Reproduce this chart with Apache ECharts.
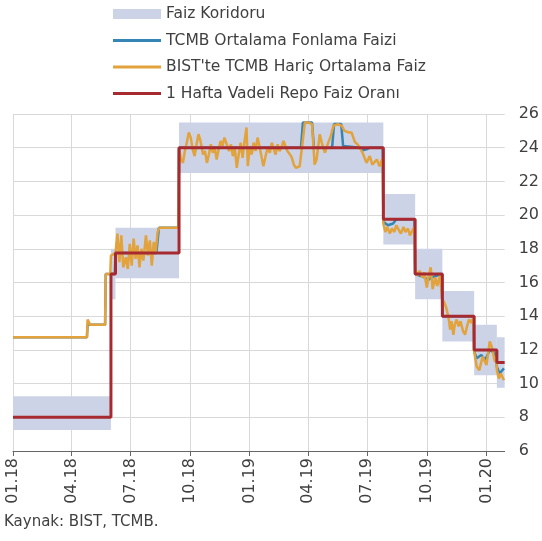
<!DOCTYPE html>
<html>
<head>
<meta charset="utf-8">
<script src="https://cdn.jsdelivr.net/npm/echarts@6/dist/echarts.min.js"></script>
<style>
  html, body { margin: 0; padding: 0; background: #fff; }
  #chart { width: 542px; height: 541px; }
</style>
</head>
<body>
<div id="chart"></div>
<script>
// quarter ticks on the x axis
const quarterTicks = ['2018-01-01', '2018-04-01', '2018-07-01', '2018-10-01', '2019-01-01',
  '2019-04-01', '2019-07-01', '2019-10-01', '2020-01-01'];

// faiz koridoru: [start, end, lower, upper]
const corridor = [
  ['2018-01-01', '2018-06-01', 7.25, 9.25],
  ['2018-06-01', '2018-06-08', 15, 18],
  ['2018-06-08', '2018-09-14', 16.25, 19.25],
  ['2018-09-14', '2019-07-26', 22.5, 25.5],
  ['2019-07-26', '2019-09-13', 18.25, 21.25],
  ['2019-09-13', '2019-10-25', 15, 18],
  ['2019-10-25', '2019-12-13', 12.5, 15.5],
  ['2019-12-13', '2020-01-17', 10.5, 13.5],
  ['2020-01-17', '2020-01-29', 9.75, 12.75]
];

// 1 hafta vadeli repo (policy rate), held until next change
const repoRate = [
  ['2018-01-01', 8], ['2018-06-01', 16.5], ['2018-06-08', 17.75], ['2018-09-14', 24],
  ['2019-07-26', 19.75], ['2019-09-13', 16.5], ['2019-10-25', 14], ['2019-12-13', 12],
  ['2020-01-17', 11.25], ['2020-01-29', 11.25]
];

// TCMB ortalama fonlama faizi
const tcmbFunding = [
  ['2018-01-01', 12.75], ['2018-04-25', 12.75], ['2018-04-26', 13.5], ['2018-05-23', 13.5],
  ['2018-05-24', 16.5], ['2018-06-07', 16.5], ['2018-06-08', 17.75], ['2018-08-10', 17.75],
  ['2018-08-12', 18.5], ['2018-08-14', 19.25], ['2018-09-13', 19.25], ['2018-09-14', 24],
  ['2019-03-21', 24], ['2019-03-24', 25.5], ['2019-04-07', 25.5], ['2019-04-10', 24],
  ['2019-05-08', 24], ['2019-05-11', 25.4], ['2019-05-22', 25.4], ['2019-05-25', 24.1],
  ['2019-06-20', 24], ['2019-06-24', 23.85], ['2019-06-30', 23.9], ['2019-07-05', 24],
  ['2019-07-25', 24], ['2019-07-26', 19.6], ['2019-08-02', 19.4], ['2019-08-10', 19.5],
  ['2019-08-15', 19.75], ['2019-09-12', 19.75], ['2019-09-13', 16.5], ['2019-09-28', 16.3],
  ['2019-10-03', 16.15], ['2019-10-08', 16.3], ['2019-10-24', 16.5], ['2019-10-25', 14],
  ['2019-12-12', 14], ['2019-12-13', 11.9], ['2019-12-17', 11.5], ['2019-12-24', 11.7],
  ['2019-12-30', 11.4], ['2020-01-06', 12], ['2020-01-14', 11.8], ['2020-01-17', 11.0],
  ['2020-01-21', 10.6], ['2020-01-28', 10.9]
];

// BIST'te TCMB hariç ortalama faiz
const bistRate = [
  ['2018-01-01', 12.75], ['2018-04-25', 12.75], ['2018-04-26', 13.8], ['2018-04-30', 13.5],
  ['2018-05-23', 13.5], ['2018-05-24', 16.5], ['2018-05-31', 16.5], ['2018-06-01', 17.6],
  ['2018-06-08', 17.75], ['2018-06-11', 18.9], ['2018-06-14', 17.2], ['2018-06-17', 18.8],
  ['2018-06-20', 16.9], ['2018-06-24', 17.5], ['2018-06-27', 16.8], ['2018-06-30', 18.3],
  ['2018-07-03', 17.0], ['2018-07-06', 18.6], ['2018-07-09', 17.4], ['2018-07-12', 18.2],
  ['2018-07-15', 16.9], ['2018-07-18', 18.0], ['2018-07-21', 17.3], ['2018-07-25', 18.8],
  ['2018-07-28', 17.6], ['2018-07-31', 18.5], ['2018-08-03', 17.0], ['2018-08-06', 18.4],
  ['2018-08-09', 17.8], ['2018-08-12', 19.0], ['2018-08-15', 19.25], ['2018-09-13', 19.25],
  ['2018-09-14', 24.0], ['2018-09-17', 23.3], ['2018-09-20', 23.1], ['2018-09-23', 23.8],
  ['2018-09-26', 24.3], ['2018-09-29', 24.9], ['2018-10-02', 24.6], ['2018-10-05', 23.9],
  ['2018-10-08', 23.5], ['2018-10-11', 24.2], ['2018-10-14', 24.8], ['2018-10-17', 24.4],
  ['2018-10-21', 23.6], ['2018-10-24', 23.8], ['2018-10-27', 23.1], ['2018-10-30', 23.6],
  ['2018-11-02', 24.2], ['2018-11-05', 23.7], ['2018-11-08', 24.0], ['2018-11-11', 23.3],
  ['2018-11-14', 23.9], ['2018-11-17', 24.4], ['2018-11-20', 24.1], ['2018-11-23', 24.6],
  ['2018-11-26', 24.5], ['2018-11-30', 23.8], ['2018-12-03', 24.2], ['2018-12-06', 23.5],
  ['2018-12-09', 24.0], ['2018-12-12', 22.8], ['2018-12-15', 23.6], ['2018-12-18', 24.3],
  ['2018-12-21', 23.4], ['2018-12-24', 24.4], ['2018-12-27', 25.2], ['2018-12-29', 22.9],
  ['2019-01-01', 24.0], ['2019-01-04', 23.6], ['2019-01-07', 24.3], ['2019-01-10', 23.8],
  ['2019-01-13', 24.6], ['2019-01-16', 24.1], ['2019-01-19', 23.5], ['2019-01-22', 22.9],
  ['2019-01-26', 23.6], ['2019-01-29', 24.0], ['2019-02-01', 23.7], ['2019-02-04', 24.3],
  ['2019-02-07', 23.9], ['2019-02-10', 23.6], ['2019-02-13', 24.2], ['2019-02-16', 23.8],
  ['2019-02-19', 24.0], ['2019-02-22', 24.4], ['2019-02-25', 24.3], ['2019-02-28', 23.8],
  ['2019-03-04', 23.6], ['2019-03-07', 23.4], ['2019-03-10', 23.0], ['2019-03-13', 22.8],
  ['2019-03-16', 22.9], ['2019-03-19', 22.9], ['2019-03-24', 24.5], ['2019-03-27', 25.5],
  ['2019-04-01', 25.5], ['2019-04-07', 25.4], ['2019-04-11', 23.0], ['2019-04-14', 23.3],
  ['2019-04-19', 24.8], ['2019-04-22', 24.3], ['2019-04-27', 23.7], ['2019-05-01', 24.2],
  ['2019-05-06', 24.7], ['2019-05-10', 25.3], ['2019-05-17', 25.4], ['2019-05-23', 25.3],
  ['2019-05-27', 25.0], ['2019-06-03', 24.9], ['2019-06-07', 24.9], ['2019-06-12', 24.35],
  ['2019-06-16', 24.2], ['2019-06-19', 24.05], ['2019-06-24', 23.7], ['2019-06-30', 23.1],
  ['2019-07-05', 23.5], ['2019-07-09', 23.0], ['2019-07-16', 23.3], ['2019-07-20', 22.9],
  ['2019-07-25', 23.4], ['2019-07-26', 19.5], ['2019-07-29', 19.0], ['2019-08-01', 19.3],
  ['2019-08-05', 18.9], ['2019-08-08', 19.2], ['2019-08-12', 19.0], ['2019-08-15', 19.4],
  ['2019-08-19', 19.1], ['2019-08-22', 18.9], ['2019-08-26', 19.3], ['2019-08-29', 19.0],
  ['2019-09-02', 19.2], ['2019-09-05', 18.8], ['2019-09-09', 19.1], ['2019-09-12', 19.3],
  ['2019-09-13', 16.8], ['2019-09-17', 16.4], ['2019-09-20', 16.7], ['2019-09-24', 16.3],
  ['2019-09-27', 16.6], ['2019-10-01', 15.7], ['2019-10-03', 16.2], ['2019-10-07', 16.9],
  ['2019-10-10', 15.6], ['2019-10-14', 16.3], ['2019-10-17', 15.8], ['2019-10-21', 16.4],
  ['2019-10-24', 16.3], ['2019-10-25', 15.0], ['2019-10-28', 14.8], ['2019-10-31', 14.5],
  ['2019-11-04', 13.8], ['2019-11-06', 13.2], ['2019-11-08', 13.7], ['2019-11-11', 12.9],
  ['2019-11-13', 13.5], ['2019-11-16', 13.8], ['2019-11-19', 13.4], ['2019-11-22', 13.7],
  ['2019-11-26', 13.1], ['2019-11-29', 12.9], ['2019-12-02', 13.4], ['2019-12-05', 13.8],
  ['2019-12-09', 13.6], ['2019-12-12', 14.0], ['2019-12-13', 11.9], ['2019-12-17', 11.0],
  ['2019-12-21', 10.8], ['2019-12-26', 11.6], ['2020-01-01', 11.1], ['2020-01-06', 12.5],
  ['2020-01-09', 12.2], ['2020-01-14', 11.3], ['2020-01-16', 11.6], ['2020-01-17', 10.8],
  ['2020-01-20', 10.3], ['2020-01-23', 10.6], ['2020-01-28', 10.2]
];

const colors = ['#ccd3e7', '#3585b5', '#e2a23c', '#a82a31'];
const font = 'DejaVu Sans';
const lineIcon = 'path://M0,0H48V3H0Z';

// dates -> UTC timestamps for a plain value axis
const ts = s => Date.parse(s);
const toXY = arr => arr.map(p => [ts(p[0]), p[1]]);
const pad = n => (n < 10 ? '0' : '') + n;

const myChart = echarts.init(document.getElementById('chart'), null, { renderer: 'canvas' });

const option = {
  animation: false,
  color: colors,
  textStyle: { fontFamily: font },
  legend: {
    orient: 'vertical',
    left: 113,
    top: 6,
    padding: 0,
    itemWidth: 48,
    itemHeight: 10,
    itemGap: 10.5,
    textStyle: { fontFamily: font, fontSize: 15.5, color: '#404040', lineHeight: 16 },
    data: [
      { name: 'Faiz Koridoru', icon: 'rect', itemStyle: { color: colors[0] } },
      { name: 'TCMB Ortalama Fonlama Faizi', icon: lineIcon, itemStyle: { color: colors[1] } },
      { name: "BIST'te TCMB Hariç Ortalama Faiz", icon: lineIcon, itemStyle: { color: colors[2] } },
      { name: '1 Hafta Vadeli Repo Faiz Oranı', icon: lineIcon, itemStyle: { color: colors[3] } }
    ]
  },
  grid: { left: 13, right: 37, top: 114, bottom: 90 },
  xAxis: {
    type: 'value',
    min: ts('2018-01-01'),
    max: ts('2020-01-29'),
    axisLine: { onZero: false, lineStyle: { color: '#666', width: 1 } },
    axisTick: { show: true, length: 5, customValues: quarterTicks.map(ts), lineStyle: { color: '#666' } },
    axisLabel: {
      customValues: quarterTicks.map(ts),
      rotate: 90,
      margin: 7,
      fontFamily: font,
      fontSize: 16,
      color: '#404040',
      formatter: v => {
        const d = new Date(v);
        return pad(d.getUTCMonth() + 1) + '.' + pad(d.getUTCFullYear() % 100);
      }
    },
    splitLine: { show: true, lineStyle: { color: '#d9d9d9' } }
  },
  yAxis: {
    type: 'value',
    position: 'right',
    min: 6,
    max: 26,
    interval: 2,
    axisLine: { show: false },
    axisTick: { show: false },
    axisLabel: { margin: 14, fontFamily: font, fontSize: 16, color: '#404040' },
    splitLine: { lineStyle: { color: '#d9d9d9' } }
  },
  series: [
    {
      name: 'Faiz Koridoru',
      type: 'line',
      z: 1,
      data: [],
      markArea: {
        silent: true,
        itemStyle: { color: colors[0], opacity: 1 },
        data: corridor.map(c => [{ xAxis: ts(c[0]), yAxis: c[2] }, { xAxis: ts(c[1]), yAxis: c[3] }])
      }
    },
    {
      name: 'TCMB Ortalama Fonlama Faizi',
      type: 'line',
      z: 2,
      symbol: 'none',
      lineStyle: { width: 2.5, color: colors[1] },
      data: toXY(tcmbFunding)
    },
    {
      name: "BIST'te TCMB Hariç Ortalama Faiz",
      type: 'line',
      z: 3,
      symbol: 'none',
      lineStyle: { width: 2.5, color: colors[2] },
      data: toXY(bistRate)
    },
    {
      name: '1 Hafta Vadeli Repo Faiz Oranı',
      type: 'line',
      z: 4,
      symbol: 'none',
      step: 'end',
      lineStyle: { width: 3, color: colors[3] },
      data: toXY(repoRate)
    }
  ],
  graphic: [{
    type: 'text',
    left: 4,
    top: 515,
    style: { text: 'Kaynak: BIST, TCMB.', fontFamily: font, fontSize: 15, fill: '#404040' }
  }]
};

myChart.setOption(option);
</script>
</body>
</html>
